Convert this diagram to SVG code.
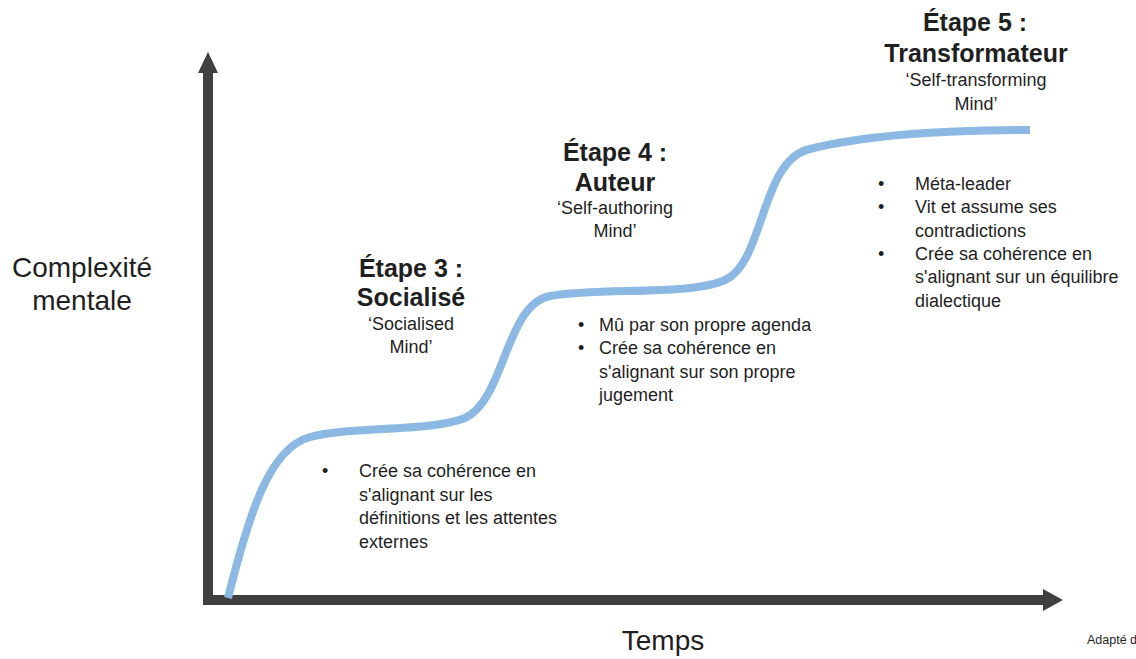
<svg xmlns="http://www.w3.org/2000/svg" width="1136" height="659" viewBox="0 0 1136 659">
<style>
.t{font-family:"Liberation Sans",Arial,sans-serif;fill:#1f1f1f}
.h{font-size:25px;font-weight:bold;text-anchor:middle}
.s{font-size:18px;text-anchor:middle}
.b{font-size:18px}
.ax{fill:#404040}
.curve{fill:none;stroke:#8cb9e3;stroke-width:8;stroke-linecap:butt}
</style>
<rect width="1136" height="659" fill="#ffffff"/>
<g id="axes">
<rect class="ax" x="203" y="68" width="10" height="537"/>
<polygon class="ax" points="198,73 208,52 218,73"/>
<rect class="ax" x="203" y="595" width="843" height="10"/>
<polygon class="ax" points="1043,589 1063,600 1043,611"/>
</g>
<g id="connectors">
<path class="curve" d="M228,598 C250,510 270,448 310,437 C350,426 430,432 465,418 C505,400 505,305 550,296 C600,287 690,296 725,280 C765,262 760,160 810,149 C870,134 950,130 1030,130"/>
</g>
<g id="axis-labels">
<text class="t" x="82" y="277" font-size="28" text-anchor="middle">Complexité</text>
<text class="t" x="82" y="310" font-size="28" text-anchor="middle">mentale</text>
<text class="t" x="663" y="650" font-size="28" text-anchor="middle">Temps</text>
<text class="t" x="1087" y="644" font-size="12.5">Adapté d</text>
</g>
<g id="stage3">
<text class="t h" x="411" y="277">Étape 3 :</text>
<text class="t h" x="411" y="306">Socialisé</text>
<text class="t s" x="411" y="330">‘Socialised</text>
<text class="t s" x="411" y="353">Mind’</text>
<text class="t b" x="322" y="477">•</text>
<text class="t b" x="359" y="477">Crée sa cohérence en</text>
<text class="t b" x="359" y="501">s'alignant sur les</text>
<text class="t b" x="359" y="524">définitions et les attentes</text>
<text class="t b" x="359" y="548">externes</text>
</g>
<g id="stage4">
<text class="t h" x="615" y="161">Étape 4 :</text>
<text class="t h" x="615" y="191">Auteur</text>
<text class="t s" x="615" y="214">‘Self-authoring</text>
<text class="t s" x="615" y="237">Mind’</text>
<text class="t b" x="578" y="331">•</text>
<text class="t b" x="599" y="331">Mû par son propre agenda</text>
<text class="t b" x="578" y="354">•</text>
<text class="t b" x="599" y="354">Crée sa cohérence en</text>
<text class="t b" x="599" y="378">s'alignant sur son propre</text>
<text class="t b" x="599" y="401">jugement</text>
</g>
<g id="stage5">
<text class="t h" x="975" y="31">Étape 5 :</text>
<text class="t h" x="976" y="62">Transformateur</text>
<text class="t s" x="976" y="86">‘Self-transforming</text>
<text class="t s" x="976" y="110">Mind’</text>
<text class="t b" x="878" y="190">•</text>
<text class="t b" x="915" y="190">Méta-leader</text>
<text class="t b" x="878" y="213">•</text>
<text class="t b" x="915" y="213">Vit et assume ses</text>
<text class="t b" x="915" y="237">contradictions</text>
<text class="t b" x="878" y="260">•</text>
<text class="t b" x="915" y="260">Crée sa cohérence en</text>
<text class="t b" x="915" y="283">s'alignant sur un équilibre</text>
<text class="t b" x="915" y="307">dialectique</text>
</g>
</svg>
